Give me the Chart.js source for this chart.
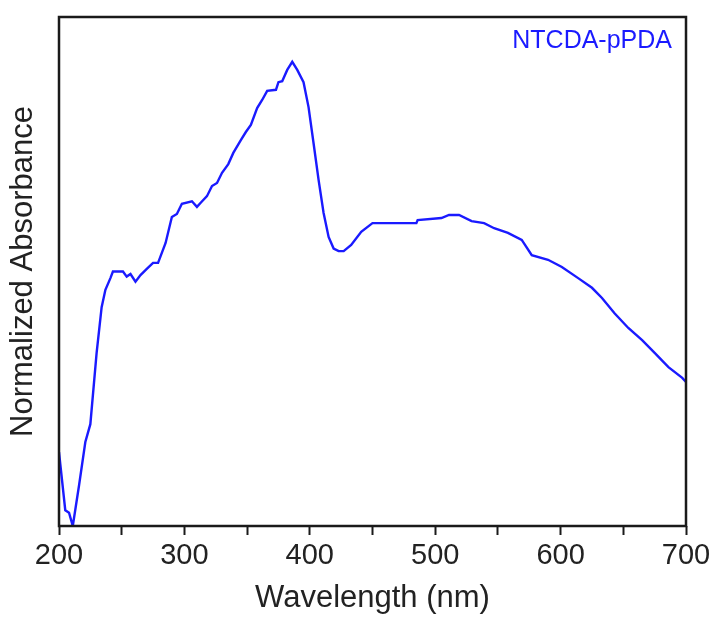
<!DOCTYPE html>
<html>
<head>
<meta charset="utf-8">
<script src="https://cdn.jsdelivr.net/npm/chart.js@4.4.1/dist/chart.umd.min.js"></script>
<style>
  html, body { margin: 0; padding: 0; background: #fff; }
  #wrap { width: 715px; height: 620px; }
</style>
</head>
<body>
<div id="wrap"><canvas id="grafico" width="715" height="620"></canvas></div>
<script>
// Dados (comprimento de onda em nm, absorbância normalizada)
const comprimentos = [200, 205, 208, 211, 216, 221, 225, 230, 234, 237, 241, 243, 251, 254, 257, 261, 265, 270, 275, 279,
  285, 290, 294, 298, 306, 310, 313, 318, 322, 326, 330, 335, 339, 345, 349, 353, 358, 362, 366, 373,
  375, 378, 382, 386, 390, 395, 399, 403, 407, 411, 415, 419, 423, 427, 433, 441, 450, 485, 486, 505,
  511, 519, 529, 539, 547, 558, 569, 577, 590, 601, 614, 625, 633, 643, 654, 665, 675, 686, 697, 700];
const absorbancia = [0.145, 0.031, 0.026, 0.0, 0.08, 0.165, 0.20, 0.34, 0.43, 0.464, 0.487, 0.50, 0.50, 0.49, 0.495, 0.48, 0.493, 0.505, 0.517, 0.517,
  0.556, 0.607, 0.613, 0.633, 0.638, 0.627, 0.635, 0.648, 0.668, 0.674, 0.694, 0.711, 0.733, 0.758, 0.774, 0.788, 0.821, 0.837, 0.855, 0.857,
  0.872, 0.874, 0.896, 0.912, 0.896, 0.872, 0.823, 0.752, 0.680, 0.615, 0.568, 0.545, 0.540, 0.540, 0.552, 0.578, 0.595, 0.595, 0.601, 0.605,
  0.611, 0.611, 0.599, 0.595, 0.585, 0.576, 0.562, 0.532, 0.523, 0.509, 0.487, 0.468, 0.448, 0.418, 0.389, 0.365, 0.340, 0.312, 0.291, 0.283];
const nomeAmostra = 'NTCDA-pPDA';
const rotuloX = 'Wavelength (nm)';
const rotuloY = 'Normalized Absorbance';

const fonte = '"Liberation Sans", Arial, Helvetica, sans-serif';
const azul = '#1a1aff';
const preto = '#1a1a1a';

// Moldura em volta da área do gráfico + nome da amostra
const moldura = {
  id: 'moldura',
  afterDraw(chart) {
    const { ctx, chartArea: a } = chart;
    ctx.save();
    ctx.strokeStyle = preto;
    ctx.lineWidth = 2.5;
    ctx.strokeRect(a.left, a.top, a.right - a.left, a.bottom - a.top);
    ctx.fillStyle = azul;
    ctx.font = '25px ' + fonte;
    ctx.textAlign = 'right';
    ctx.textBaseline = 'alphabetic';
    ctx.fillText(nomeAmostra, a.right - 14, a.top + 31);
    ctx.restore();
  }
};

const ctx = document.getElementById('grafico').getContext('2d');
const grafico = new Chart(ctx, {
  type: 'line',
  data: {
    datasets: [{
      label: nomeAmostra,
      data: comprimentos.map((x, i) => ({ x: x, y: absorbancia[i] })),
      borderColor: azul,
      borderWidth: 2.4,
      pointRadius: 0,
      tension: 0,
      fill: false
    }]
  },
  options: {
    responsive: false,
    animation: false,
    layout: { padding: { left: 0, right: 29, top: 17, bottom: 0 } },
    plugins: { legend: { display: false }, tooltip: { enabled: false } },
    scales: {
      x: {
        type: 'linear',
        min: 200,
        max: 700,
        border: { display: false },
        grid: { drawOnChartArea: false, drawTicks: true, tickLength: 9, tickWidth: 2, tickColor: preto },
        ticks: {
          stepSize: 50,
          autoSkip: false,
          maxRotation: 0,
          padding: 4,
          color: '#222',
          font: { family: fonte, size: 29 },
          callback: v => (v % 100 === 0 ? String(v) : '')
        },
        title: { display: true, text: rotuloX, color: '#222', font: { family: fonte, size: 31 }, padding: { top: 0, bottom: 3 } },
        afterFit: s => { s.height = 94; }
      },
      y: {
        min: 0,
        max: 1,
        border: { display: false },
        grid: { display: false },
        ticks: { display: false },
        title: { display: true, text: rotuloY, color: '#222', font: { family: fonte, size: 31 }, padding: { top: 5, bottom: 0 } },
        afterFit: s => { s.width = 59; }
      }
    }
  },
  plugins: [moldura]
});
</script>
</body>
</html>
